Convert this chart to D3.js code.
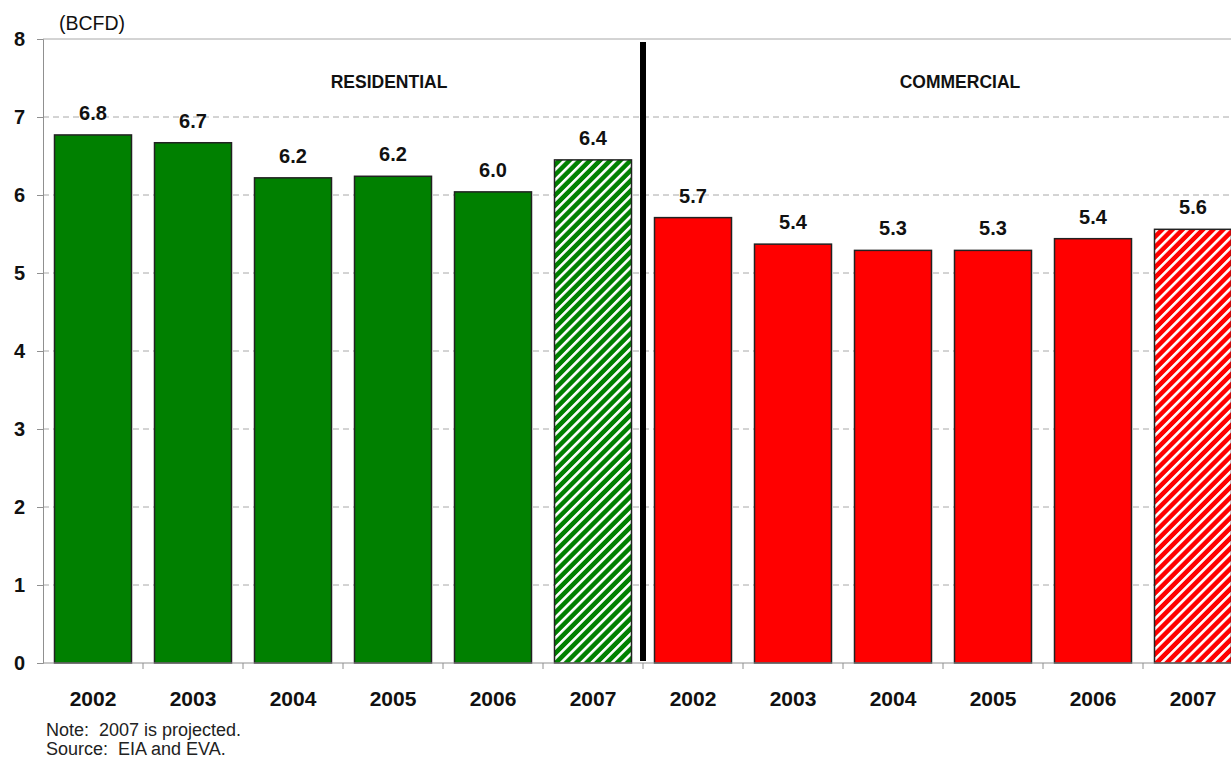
<!DOCTYPE html>
<html><head><meta charset="utf-8">
<script src="https://cdn.jsdelivr.net/npm/d3@7/dist/d3.min.js"></script>
<style>
body{margin:0;background:#fff;}
svg{display:block;font-family:"Liberation Sans",Arial,sans-serif;}
</style></head>
<body><svg id="c" width="1231" height="759"></svg>
<script>
const years = ["2002","2003","2004","2005","2006","2007"];
const residential = [6.77, 6.67, 6.22, 6.24, 6.04, 6.45];
const commercial = [5.71, 5.37, 5.29, 5.29, 5.44, 5.56];
const residentialLabels = ["6.8","6.7","6.2","6.2","6.0","6.4"];
const commercialLabels = ["5.7","5.4","5.3","5.3","5.4","5.6"];
const projected = [false,false,false,false,false,true];
const yTicks = [0,1,2,3,4,5,6,7,8];
const groups = ["RESIDENTIAL","COMMERCIAL"];

(function(){
const svg = d3.select("#c");
const mLeft = 43, mTop = 39, mBottom = 663;
const bandW = 100;
const data = [];
years.forEach((y,i)=>data.push({key:"R"+y, year:y, v:residential[i], label:residentialLabels[i], proj:projected[i], g:0}));
years.forEach((y,i)=>data.push({key:"C"+y, year:y, v:commercial[i], label:commercialLabels[i], proj:projected[i], g:1}));

const x = d3.scaleBand().domain(data.map(d=>d.key)).range([mLeft, mLeft+bandW*data.length]).paddingInner(0.23).paddingOuter(0.115);
const y = d3.scaleLinear().domain([0,8]).range([mBottom, mTop]);

const colors = ["#008000","#ff0000"];
const defs = svg.append("defs");
colors.forEach((c,i)=>{
  const p = defs.append("pattern").attr("id","hatch"+i).attr("patternUnits","userSpaceOnUse")
    .attr("width",7.2).attr("height",7.2).attr("patternTransform","rotate(45)");
  p.append("rect").attr("width",7.2).attr("height",7.2).attr("fill",c);
  p.append("rect").attr("x",0).attr("width",2.6).attr("height",7.2).attr("fill","#fff");
});

// gridlines
svg.append("g").selectAll("line").data(yTicks.filter(t=>t>0)).join("line")
  .attr("x1",mLeft).attr("x2",1231).attr("y1",d=>y(d)).attr("y2",d=>y(d))
  .attr("stroke","#a8a8a8").attr("stroke-width",1)
  .attr("stroke-dasharray",d=>d===8?null:"6,4");

// y axis
const yAxis = svg.append("g").attr("transform",`translate(${mLeft},0)`)
  .call(d3.axisLeft(y).tickValues(yTicks).tickSize(6).tickPadding(12).tickFormat(d3.format("d")));
yAxis.select(".domain").attr("stroke","#909090");
yAxis.selectAll(".tick line").attr("stroke","#909090");
yAxis.selectAll("text").attr("font-size",20).attr("font-weight","bold").attr("fill","#111").attr("font-family","Liberation Sans, Arial, sans-serif");

// bars
svg.append("g").selectAll("rect").data(data).join("rect")
  .attr("x",d=>x(d.key)).attr("width",x.bandwidth())
  .attr("y",d=>y(d.v)).attr("height",d=>y(0)-y(d.v))
  .attr("fill",d=>d.proj?`url(#hatch${d.g})`:colors[d.g])
  .attr("stroke","#222").attr("stroke-width",1.5);

// value labels
svg.append("g").selectAll("text").data(data).join("text")
  .attr("x",d=>x(d.key)+x.bandwidth()/2).attr("y",d=>y(d.v)-15)
  .attr("text-anchor","middle").attr("font-size",20).attr("font-weight","bold").attr("fill","#111")
  .text(d=>d.label);

// x axis
const xb = d3.scaleLinear().domain([0,data.length]).range([mLeft,mLeft+bandW*data.length]);
svg.append("line").attr("x1",mLeft).attr("x2",1231).attr("y1",mBottom).attr("y2",mBottom).attr("stroke","#909090");
svg.append("g").selectAll("line").data(d3.range(1,data.length)).join("line")
  .attr("x1",d=>xb(d)).attr("x2",d=>xb(d)).attr("y1",mBottom).attr("y2",mBottom+6).attr("stroke","#909090");
svg.append("g").selectAll("text").data(data).join("text")
  .attr("x",d=>x(d.key)+x.bandwidth()/2).attr("y",706)
  .attr("text-anchor","middle").attr("font-size",21).attr("font-weight","bold").attr("fill","#111")
  .text(d=>d.year);

// divider
svg.append("line").attr("x1",xb(6)).attr("x2",xb(6)).attr("y1",42).attr("y2",661)
  .attr("stroke","#000").attr("stroke-width",6);

// group titles
const titleX = [(xb(0)+xb(6))/2 + 46, (xb(6)+1231)/2 + 23];
groups.forEach((g,i)=>{
  svg.append("text").attr("x",titleX[i]).attr("y",88).attr("text-anchor","middle")
    .attr("font-size",17.5).attr("font-weight","bold").attr("fill","#111").text(g);
});

// unit label
svg.append("text").attr("x",59).attr("y",30).attr("font-size",19.5).attr("fill","#111").text("(BCFD)");

// notes
svg.append("text").attr("x",46).attr("y",736).attr("font-size",18).attr("fill","#222").attr("xml:space","preserve").text("Note:  2007 is projected.");
svg.append("text").attr("x",46).attr("y",755).attr("font-size",18).attr("fill","#222").attr("xml:space","preserve").text("Source:  EIA and EVA.");
})();
</script></body></html>
